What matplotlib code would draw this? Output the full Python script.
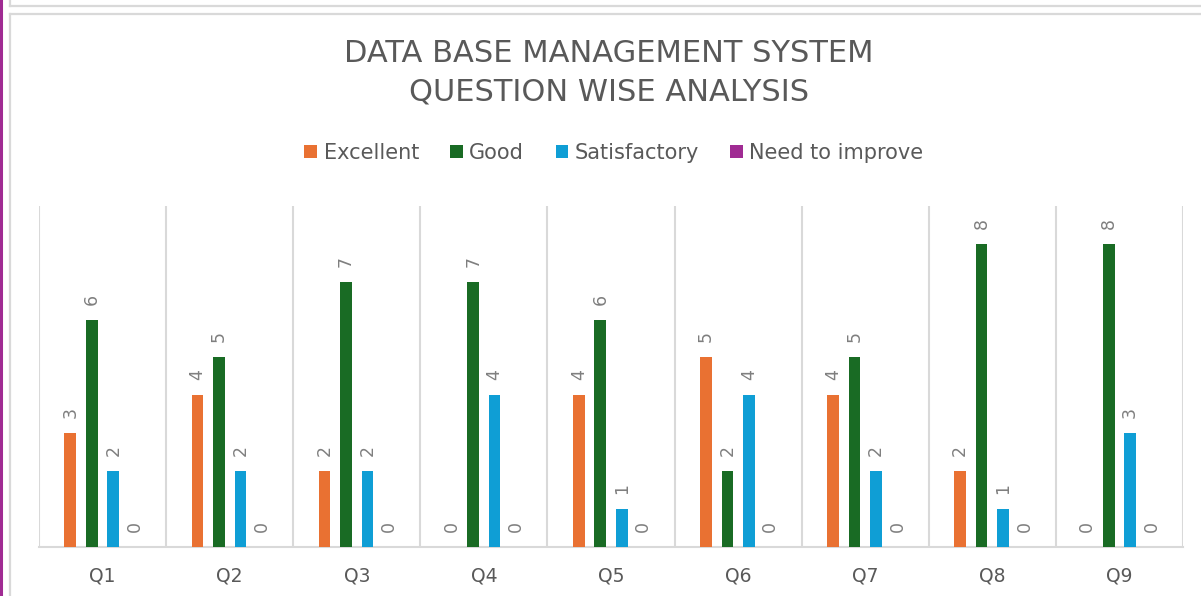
import numpy as np
import matplotlib
matplotlib.use("Agg")
import matplotlib.pyplot as plt
from matplotlib.patches import Patch
from matplotlib.lines import Line2D

questions = ["Q1", "Q2", "Q3", "Q4", "Q5", "Q6", "Q7", "Q8", "Q9"]
series_names = ["Excellent", "Good", "Satisfactory", "Need to improve"]
excellent = [3, 4, 2, 0, 4, 5, 4, 2, 0]
good = [6, 5, 7, 7, 6, 2, 5, 8, 8]
satisfactory = [2, 2, 2, 4, 1, 4, 2, 1, 3]
need_to_improve = [0, 0, 0, 0, 0, 0, 0, 0, 0]

colors = ["#E97132", "#196B24", "#0F9ED5", "#A02B93"]
text_dark = "#595959"
label_grey = "#7f7f7f"
grid_grey = "#d9d9d9"

W, H = 1201, 596
fig = plt.figure(figsize=(W / 100, H / 100), dpi=100)
plt.rcParams['font.family'] = ['DejaVu Sans']

# outer frame decorations (screenshot borders)
def px_line(x0, y0, x1, y1, color, lw):
    fig.add_artist(Line2D([x0 / W, x1 / W], [1 - y0 / H, 1 - y1 / H],
                          transform=fig.transFigure, color=color, lw=lw))

px_line(1, 0, 1, H, "#A02B93", 2.2)
px_line(9.8, 0, 9.8, 6, grid_grey, 1.6)
px_line(9.8, 5.6, W, 5.6, grid_grey, 1.6)
px_line(9.8, 14, W, 14, grid_grey, 1.6)
px_line(9.8, 14, 9.8, H, grid_grey, 1.6)

ax = fig.add_axes([39 / W, 49.3 / H, (1183 - 39) / W, (546.7 - 206) / H])

data = [excellent, good, satisfactory, need_to_improve]
x = np.arange(len(questions))
step = 0.169
width = 0.092
for i, (vals, name, col) in enumerate(zip(data, series_names, colors)):
    pos = x + (i - 1.5) * step
    ax.bar(pos, vals, width=width, color=col, label=name, zorder=3)
    for px_, v in zip(pos, vals):
        ax.annotate(str(v), (px_, v), xytext=(0, 15), textcoords="offset pixels",
                    rotation=90, ha="center", va="bottom", fontsize=12.5,
                    color=label_grey)

ax.set_xlim(-0.5, len(questions) - 0.5)
ax.set_ylim(0, 9)
for b in np.arange(-0.5, len(questions), 1.0):
    ax.axvline(b, color=grid_grey, lw=1.5, zorder=1)

for s in ["top", "right", "left"]:
    ax.spines[s].set_visible(False)
ax.spines["bottom"].set_color(grid_grey)
ax.spines["bottom"].set_linewidth(1.5)
ax.set_yticks([])
ax.set_xticks(x)
ax.set_xticklabels(questions, fontsize=13.5, color=text_dark)
ax.tick_params(axis="x", length=0, pad=14)

fig.text(609 / W, 1 - 72.5 / H, "DATA BASE MANAGEMENT SYSTEM\nQUESTION WISE ANALYSIS",
         ha="center", va="center", fontsize=22, color=text_dark, linespacing=1.4)

handles = [Patch(facecolor=c, edgecolor="none") for c in colors]
fig.legend(handles, series_names, loc="center", bbox_to_anchor=(614 / W, 1 - 153 / H),
           ncol=4, frameon=False, fontsize=15, labelcolor=text_dark,
           handlelength=0.62, handleheight=0.62, handletextpad=0.3,
           columnspacing=1.5, borderaxespad=0)

fig.savefig("out.png", dpi=100)
